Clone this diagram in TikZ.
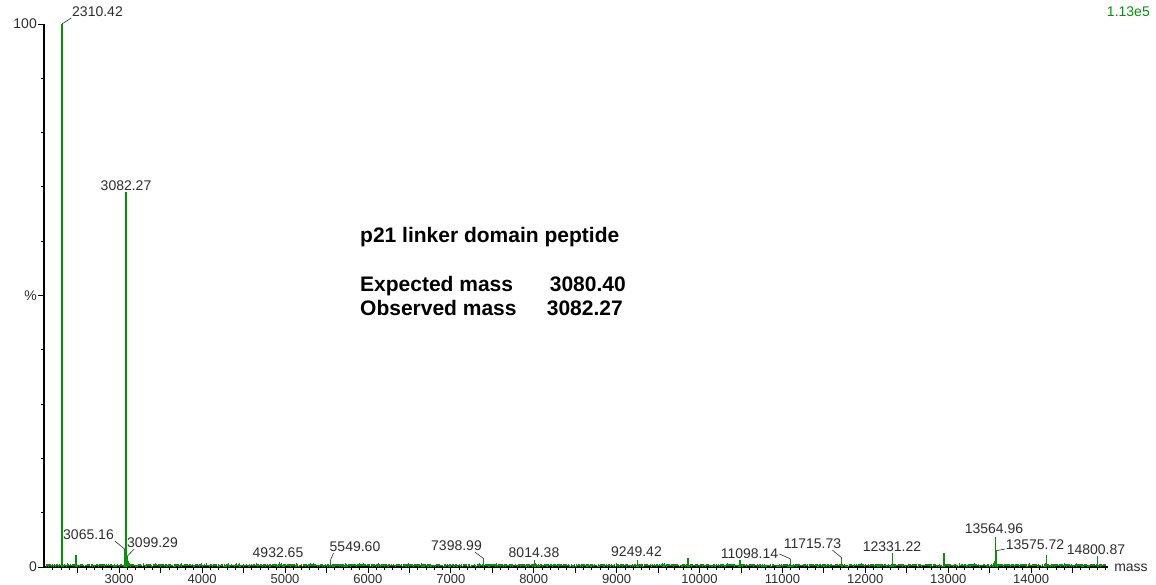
\documentclass[tikz,border=0pt]{standalone}
\usepackage{fontspec}
\setmainfont{Liberation Sans}
\usepackage{tikz}
\usetikzlibrary{positioning}

\definecolor{specgreen}{RGB}{0,150,0}
\definecolor{lblgray}{RGB}{45,45,45}

\tikzset{
	axisline/.style={line width=1.6pt, black},
	tickline/.style={line width=0.8pt, black},
	peak/.style={specgreen, line width=1.1pt},
	noise/.style={specgreen, line width=0.7pt},
	lbl/.style={font=\fontsize{14}{14}\selectfont, text=lblgray, inner sep=1pt},
	ticklbl/.style={font=\fontsize{13}{13}\selectfont, text=lblgray, inner sep=0pt, anchor=north},
	leader/.style={lblgray, line width=0.6pt},
	info/.style={font=\fontsize{21}{21}\selectfont\bfseries, inner sep=0pt}
}

\begin{document}
\begin{tikzpicture}[x=1pt, y=1pt]
				\useasboundingbox (0, 0) rectangle (1156, 584);
				\coordinate (Origin) at (44, 17);
				\coordinate (YTop) at (44, 560);
				\coordinate (XEnd) at (1108, 17);
				
				\draw[axisline] (YTop) -- (Origin) -- (XEnd);
				\foreach \i in {1,2,3,4,6,7,8,9}
					\draw[tickline] (41, 17+54.3*\i) -- (44, 17+54.3*\i);
				\foreach \i in {0,5,10}
					\draw[tickline] (38, 17+54.3*\i) -- (44, 17+54.3*\i);
				\node[lbl, anchor=east] (Top) at (38, 560) {100};
				\node[lbl, anchor=east] (Pct) at (38, 288.5) {\%};
				\node[lbl, anchor=east] (Zero) at (38, 17) {0};
				
				\begin{scope}[shift={(-129.5, 17)}, x=0.0829pt, y=5.43pt]
					\foreach \m in {2200,2300,...,14900}{
						\pgfmathsetmacro\tl{mod(\m,500)==0 ? 5.5 : 3}
						\draw[tickline] (\m, 0) -- ++(0, -\tl pt);
					}
					\foreach \m in {3000,4000,...,14000}
						\node[ticklbl, yshift=-7pt] (T\m) at (\m, 0) {\m};
					
					\pgfmathsetseed{21}
					\draw[noise] \foreach \m in {2120,2126,...,14900}{ (\m, 0.1) -- (\m, {0.2+0.45*rnd}) };
					\foreach \c/\w/\h in {2480/20/0.8, 3090/40/1.7, 3700/30/0.8, 4300/30/0.9,
						4930/50/1.0, 5600/60/0.7, 6150/50/0.9, 6700/60/0.5, 7000/80/0.5,
						8020/30/0.8, 8650/50/0.8, 9250/60/0.7, 11100/30/0.7, 12340/30/0.8,
						13570/30/1.8, 14180/30/1.0, 14650/40/0.6}
						\draw[noise] \foreach \k in {-1,-0.8,...,1}{ ({\c+\k*\w}, 0.1) -- ({\c+\k*\w}, {(0.3+0.7*rnd)*\h*(1-0.6*abs(\k))}) };
					
					\foreach \m/\h/\n in {2310.42/100/P2310, 2479/2.2/P2479, 3065.16/3.3/P3065,
						3082.27/69/P3082, 3099.29/2/P3099, 4932.65/1.0/P4933, 5549.60/1.3/P5550,
						7398.99/1.5/P7399, 8014.38/1.2/P8014, 9249.42/1.3/P9249, 9861/1.6/P9861,
						10488/1.2/P10488, 11098.14/1.5/P11098, 11715.73/1.7/P11716,
						12331.22/2.5/P12331, 12949/2.5/P12949, 13564.96/5.5/P13565,
						13575.72/3/P13576, 14180/2.2/P14180, 14800.87/2.1/P14801}
						\draw[peak] (\m, 0) -- (\m, \h) coordinate (\n);
				\end{scope}
				
				\node[lbl, anchor=west] (L2310) at (71, 572) {2310.42};
				\node[lbl, above=0pt of P3082] (L3082) {3082.27};
				\node[lbl, anchor=east] (L3065) at (115, 49) {3065.16};
				\node[lbl, anchor=west] (L3099) at (126, 41) {3099.29};
				\node[lbl] (L4933) at (278, 31) {4932.65};
				\node[lbl] (L5550) at (355, 37) {5549.60};
				\node[lbl] (L7399) at (456.5, 38) {7398.99};
				\node[lbl] (L8014) at (534, 31) {8014.38};
				\node[lbl] (L9249) at (636.5, 32) {9249.42};
				\node[lbl] (L11098) at (749.5, 30) {11098.14};
				\node[lbl] (L11716) at (812.5, 40) {11715.73};
				\node[lbl] (L12331) at (892, 37) {12331.22};
				\node[lbl] (L13565) at (994, 55) {13564.96};
				\node[lbl] (L13576) at (1035, 39) {13575.72};
				\node[lbl] (L14801) at (1096, 34) {14800.87};
				\node[lbl] (Mass) at (1131, 16) {mass};
				\node[lbl, anchor=east, text=specgreen] (Scale) at (1151, 572) {1.13e5};
				
				\draw[leader] (L2310.south west) -- (P2310);
				\draw[leader] (L3065.south east) -- (P3065);
				\draw[leader] ([xshift=8pt]L3099.south west) -- (P3099);
				\draw[leader] ([xshift=5pt]L5550.south west) -- (P5550);
				\draw[leader] ([xshift=-8pt]L7399.south east) -- (P7399);
				\draw[leader] (L11098.east) -- (P11098);
				\draw[leader] ([xshift=-10pt]L11716.south east) -- (P11716);
				\draw[leader] ([yshift=2pt]L13576.south west) -- (P13576);
				
				\node[info, anchor=base west] (Title) at (360, 341) {p21 linker domain peptide};
				\node[info, anchor=base west] (Expected) at (360, 292) {Expected mass};
				\node[info, anchor=base east] (ExpectedVal) at (626, 292) {3080.40};
				\node[info, anchor=base west] (Observed) at (360, 268) {Observed mass};
				\node[info, anchor=base east] (ObservedVal) at (623, 268) {3082.27};
			\end{tikzpicture}
\end{document}
